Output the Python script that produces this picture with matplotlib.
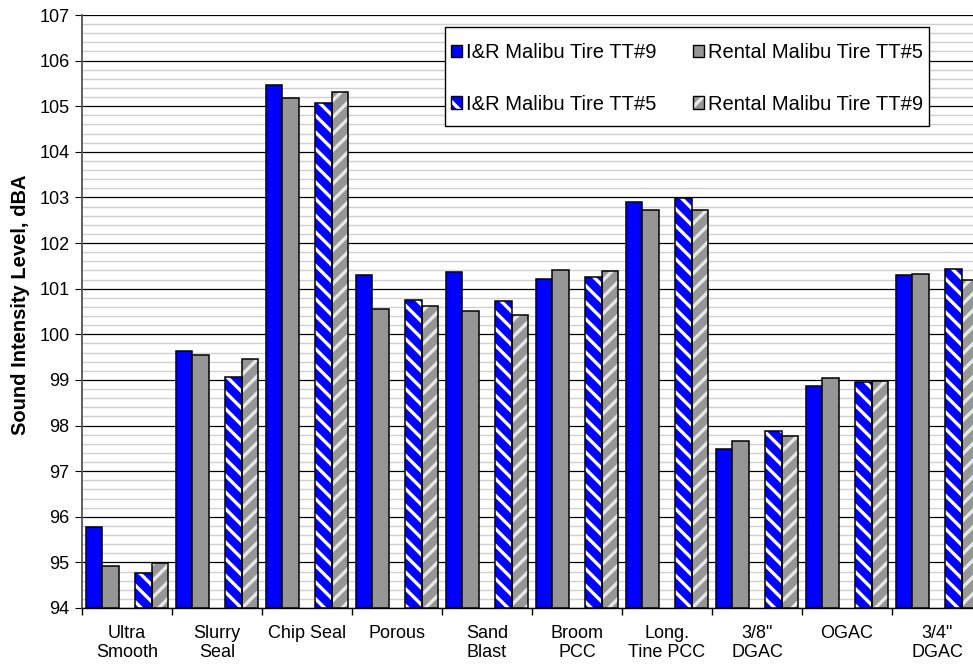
import numpy as np
import matplotlib
matplotlib.use('Agg')
import matplotlib.pyplot as plt
from matplotlib.patches import Patch, Rectangle
from matplotlib.ticker import MultipleLocator, FixedLocator

plt.rcParams['font.family'] = ['Liberation Sans', 'DejaVu Sans']
plt.rcParams['hatch.linewidth'] = 2.4

surfaces = ['Ultra\nSmooth', 'Slurry\nSeal', 'Chip Seal', 'Porous', 'Sand\nBlast',
            'Broom\nPCC', 'Long.\nTine PCC', '3/8"\nDGAC', 'OGAC', '3/4"\nDGAC']
ir_tt9 = [95.77, 99.64, 105.47, 101.30, 101.36, 101.21, 102.90, 97.48, 98.86, 101.30]
rental_tt5 = [94.92, 99.55, 105.17, 100.55, 100.52, 101.40, 102.73, 97.67, 99.05, 101.32]
ir_tt5 = [94.76, 99.07, 105.07, 100.76, 100.72, 101.26, 102.99, 97.89, 98.95, 101.43]
rental_tt9 = [94.98, 99.46, 105.31, 100.61, 100.42, 101.39, 102.73, 97.77, 98.98, 101.20]

blue = '#0000ff'
gray = '#969696'

W, H = 973, 667
fig = plt.figure(figsize=(W/100, H/100), dpi=100)
ax = fig.add_axes([82/W, 59/H, 900/W, 593/H])

x = np.arange(len(surfaces))
w = 0.183
base = 94

def hbar(pos, vals, color, hatch, hcolor):
    h = np.array(vals) - base
    ax.bar(pos, h, w, bottom=base, color=color, hatch=hatch, edgecolor=hcolor, linewidth=0, zorder=3)
    ax.bar(pos, h, w, bottom=base, fill=False, edgecolor='black', linewidth=1.1, zorder=4)

ax.bar(x - 2*w, np.array(ir_tt9) - base, w, bottom=base, color=blue, edgecolor='black', linewidth=1.1, zorder=3)
ax.bar(x - w, np.array(rental_tt5) - base, w, bottom=base, color=gray, edgecolor='black', linewidth=1.1, zorder=3)
hbar(x + w, ir_tt5, blue, '\\\\', 'white')
hbar(x + 2*w, rental_tt9, gray, '//', '#e8e8e8')

ax.set_xlim(-0.5, len(surfaces) - 0.5)
ax.set_ylim(94, 107)
ax.yaxis.set_major_locator(MultipleLocator(1))
ax.yaxis.set_minor_locator(MultipleLocator(0.2))
ax.grid(which='major', axis='y', color='black', linewidth=0.9, zorder=1)
ax.grid(which='minor', axis='y', color='#d0d0d0', linewidth=1.0, zorder=0)
ax.tick_params(axis='y', which='minor', length=0)
ax.tick_params(axis='y', which='major', length=5, direction='out', labelsize=13, pad=4)

ax.set_xticks(x)
ax.set_xticklabels(surfaces, fontsize=13, linespacing=1.2)
ax.tick_params(axis='x', which='major', length=0, pad=12)
ax.xaxis.set_minor_locator(FixedLocator(x - 0.5))
ax.tick_params(axis='x', which='minor', length=5, direction='out', width=1)

for s in ['top', 'right']:
    ax.spines[s].set_visible(False)
ax.spines['left'].set_color('#555555')
ax.spines['left'].set_linewidth(1.3)
ax.spines['bottom'].set_linewidth(1.0)

ax.set_ylabel('Sound Intensity Level, dBA', fontsize=14.5, fontweight='bold')
ax.yaxis.set_label_coords((30 - 82) / 900, (608 - 305) / 593)

# legend box drawn separately so the padding can match the original
fig.patches.append(Rectangle((445/W, 1 - 126/H), 484/W, 99/H, transform=fig.transFigure,
                             facecolor='white', edgecolor='black', linewidth=1.0, zorder=9))

handles = [
    Patch(facecolor=blue, edgecolor='black', linewidth=1),
    (Patch(facecolor=blue, hatch='\\\\', edgecolor='white', linewidth=0),
     Patch(fill=False, edgecolor='black', linewidth=1)),
    Patch(facecolor=gray, edgecolor='black', linewidth=1),
    (Patch(facecolor=gray, hatch='//', edgecolor='#e8e8e8', linewidth=0),
     Patch(fill=False, edgecolor='black', linewidth=1)),
]
labels = ['I&R Malibu Tire TT#9', 'I&R Malibu Tire TT#5',
          'Rental Malibu Tire TT#5', 'Rental Malibu Tire TT#9']
leg = fig.legend(handles, labels, ncol=2, loc='center',
                 bbox_to_anchor=((445 + 929) / 2 / W, 1 - (31 + 126) / 2 / H),
                 fontsize=14.5, frameon=False,
                 handlelength=0.55, handleheight=0.55,
                 handletextpad=0.2, labelspacing=1.6, columnspacing=1.8,
                 borderpad=0, borderaxespad=0)
leg.set_zorder(10)

plt.savefig('out.png', dpi=100)
